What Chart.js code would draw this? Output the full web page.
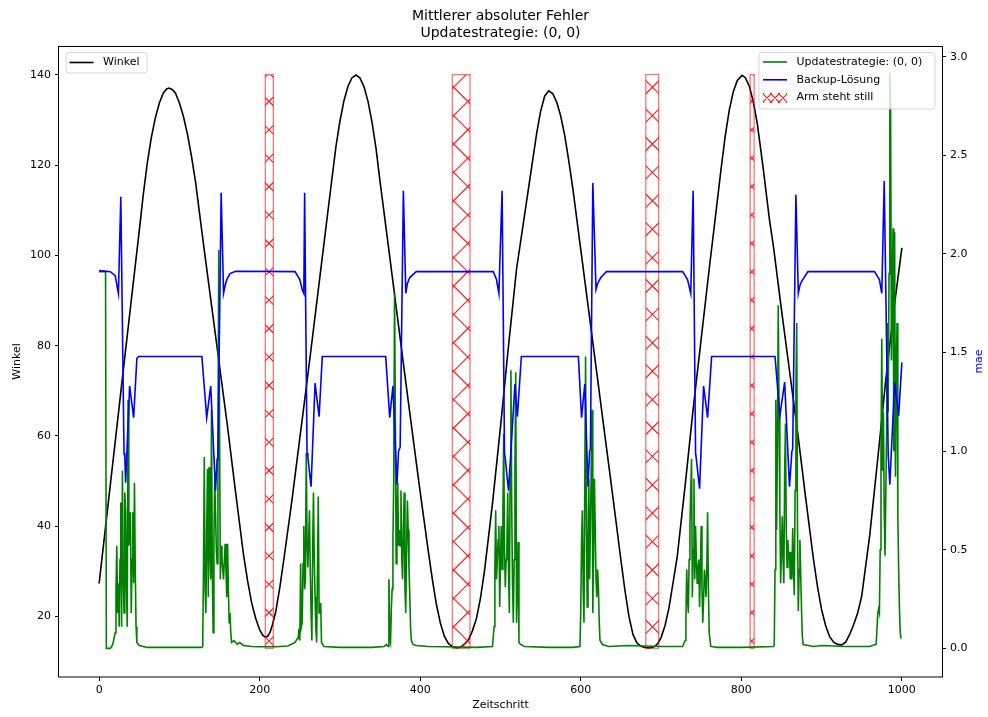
<!DOCTYPE html>
<html>
<head>
<meta charset="utf-8">
<title>Mittlerer absoluter Fehler</title>
<script src="https://cdn.jsdelivr.net/npm/chart.js@4"></script>
<style>
  html, body { margin: 0; padding: 0; background: #fff; }
</style>
</head>
<body>
<canvas id="chart" width="988" height="717"></canvas>
<script>
// Daten
const titleLines = ['Mittlerer absoluter Fehler', 'Updatestrategie: (0, 0)'];
const xTicks = [0, 200, 400, 600, 800, 1000];
const winkelTicks = [20, 40, 60, 80, 100, 120, 140];
const maeTicks = [0, 0.5, 1, 1.5, 2, 2.5, 3];

// Winkel (linke Achse)
const winkelSteps = [0, 10, 20, 30, 40, 50, 55, 60, 65, 70, 75, 80, 84, 87, 91, 95, 100, 105, 110, 115, 120, 130, 140, 150, 160, 170, 180, 185, 190, 195, 200, 204, 207, 210, 213, 216, 220, 225, 230, 240, 250, 260, 270, 280, 290, 295, 300, 305, 310, 315, 320, 325, 330, 335, 340, 345, 350, 360, 370, 380, 390, 400, 410, 415, 420, 425, 430, 435, 440, 446, 452, 456, 460, 465, 470, 475, 480, 490, 500, 510, 520, 530, 540, 545, 550, 555, 560, 565, 570, 575, 580, 585, 590, 600, 610, 620, 630, 640, 650, 655, 660, 665, 670, 675, 680, 686, 692, 696, 700, 705, 710, 720, 730, 740, 750, 760, 770, 775, 780, 785, 790, 795, 801, 805, 810, 815, 820, 827, 835, 840, 850, 860, 870, 880, 890, 895, 900, 905, 910, 915, 920, 925, 930, 935, 940, 945, 950, 960, 970, 980, 990, 1000];
const winkelValues = [27.3, 43, 58.7, 74.4, 90, 105.5, 113.5, 120.5, 126.1, 130.5, 133.8, 136, 136.9, 137.1, 136.8, 136, 133.8, 130.8, 126.9, 122, 116.4, 102.5, 89, 75.5, 62, 47.5, 33.5, 27.8, 23, 19.6, 17, 15.8, 15.4, 15.6, 16.5, 18.2, 21, 26.3, 32.5, 45.5, 59.5, 73.5, 88, 102.5, 117, 124.1, 129.8, 134.3, 137.5, 139.4, 140, 139.3, 137.4, 134.1, 129.5, 123.6, 116.3, 102.5, 88.6, 74.7, 61, 47.5, 34.5, 28.3, 22.8, 18.6, 15.6, 14, 13.3, 13, 13.4, 14, 14.8, 16.8, 19.5, 24, 30, 45, 62, 80, 97, 109, 121, 127, 132, 135.3, 136.5, 135.9, 134, 130.9, 126.6, 121, 115, 101.3, 87.6, 73.9, 60.2, 46.5, 32.5, 25.8, 20, 16, 14.1, 13.4, 13.1, 13, 13.3, 14, 15.3, 18, 22, 33, 49, 66, 81.5, 97, 112, 119.5, 126.5, 132.2, 136.3, 138.8, 139.9, 139.4, 137.5, 134, 129.1, 119.7, 108, 102, 88, 74.5, 61, 46.5, 32.5, 26.5, 21.5, 18, 15.5, 14.3, 13.8, 13.7, 14.3, 16, 18.2, 20.8, 24.5, 38, 55, 72.5, 88, 101.7];

// Updatestrategie: (0, 0) (rechte Achse)
const updateSteps = [0, 8, 9, 14, 17, 19, 20, 21, 22, 23, 24, 25, 26, 27, 28, 29, 30, 31, 32, 33, 34, 35, 36, 37, 38, 39, 40, 41, 42, 43, 44, 45, 46, 47, 50, 60, 128, 129, 130, 131, 132, 133, 134, 135, 136, 137, 138, 139, 140, 141, 142, 143, 144, 145, 146, 147, 148, 149, 150, 151, 152, 153, 154, 155, 156, 157, 158, 159, 160, 161, 162, 163, 164, 165, 168, 172, 175, 180, 190, 200, 220, 235, 244, 247, 248, 249, 250, 251, 252, 253, 254, 255, 256, 257, 258, 259, 260, 261, 262, 263, 264, 265, 266, 267, 268, 269, 270, 271, 272, 273, 274, 275, 276, 277, 280, 300, 340, 355, 358, 360, 361, 362, 363, 364, 365, 366, 367, 368, 369, 370, 371, 372, 373, 374, 375, 376, 377, 378, 379, 380, 381, 382, 383, 384, 385, 386, 387, 388, 389, 391, 395, 410, 430, 470, 490, 492, 493, 494, 495, 496, 497, 498, 499, 500, 501, 502, 503, 504, 505, 506, 507, 508, 509, 510, 511, 512, 513, 514, 515, 516, 517, 518, 519, 520, 521, 522, 523, 525, 530, 560, 590, 599, 600, 601, 602, 603, 604, 605, 606, 607, 608, 609, 610, 611, 612, 613, 614, 615, 616, 617, 618, 619, 620, 621, 622, 623, 624, 627, 635, 660, 700, 727, 730, 731, 732, 733, 734, 735, 736, 737, 738, 739, 740, 741, 742, 743, 744, 745, 746, 747, 748, 749, 750, 751, 752, 753, 754, 755, 756, 757, 758, 759, 760, 762, 770, 800, 840, 841, 842, 843, 844, 845, 846, 847, 848, 849, 850, 851, 852, 853, 854, 855, 856, 857, 858, 859, 860, 861, 862, 863, 864, 865, 866, 867, 868, 869, 870, 871, 872, 873, 874, 875, 876, 877, 890, 900, 930, 960, 967, 968, 970, 971, 972, 973, 974, 975, 976, 977, 978, 979, 980, 981, 982, 983, 984, 985, 986, 987, 988, 989, 990, 991, 992, 993, 994, 995, 996, 997, 998, 999, 1000];
const updateValues = [1.91, 1.91, 0.0, 0.0, 0.02, 0.06, 0.08, 0.30, 0.52, 0.18, 0.33, 0.11, 0.45, 0.74, 0.11, 0.90, 0.40, 0.18, 0.79, 0.69, 0.33, 0.11, 1.26, 0.52, 0.60, 0.69, 0.18, 0.45, 0.69, 0.33, 0.84, 0.40, 0.11, 0.03, 0.015, 0.005, 0.005, 0.01, 0.40, 0.97, 0.30, 0.18, 0.60, 0.91, 0.26, 0.92, 0.50, 0.35, 1.21, 0.40, 0.08, 0.55, 0.86, 0.69, 0.50, 0.43, 0.96, 2.02, 1.10, 0.35, 0.52, 0.45, 0.40, 0.35, 0.45, 0.53, 0.40, 0.26, 0.53, 0.30, 0.13, 0.18, 0.08, 0.03, 0.04, 0.02, 0.03, 0.015, 0.01, 0.008, 0.008, 0.012, 0.03, 0.05, 0.05, 0.10, 0.04, 0.43, 0.11, 0.13, 0.43, 0.62, 0.30, 0.35, 0.99, 0.55, 0.41, 0.55, 0.70, 0.40, 0.19, 0.04, 0.50, 0.79, 0.45, 0.26, 0.10, 0.03, 0.40, 0.77, 0.18, 0.20, 0.23, 0.03, 0.01, 0.005, 0.005, 0.01, 0.02, 0.01, 0.35, 0.05, 0.03, 0.20, 0.30, 0.55, 0.85, 1.80, 1.20, 0.43, 0.65, 0.84, 0.52, 0.60, 0.52, 0.80, 0.45, 0.35, 0.60, 0.79, 0.30, 0.18, 0.50, 0.75, 0.60, 0.40, 0.27, 0.10, 0.04, 0.02, 0.015, 0.01, 0.008, 0.005, 0.01, 0.11, 0.40, 0.70, 0.35, 0.45, 0.55, 0.62, 0.21, 0.45, 0.62, 0.40, 0.70, 1.09, 0.50, 0.31, 0.45, 0.52, 0.79, 0.40, 0.18, 0.90, 1.41, 0.70, 0.32, 0.13, 0.45, 0.90, 1.40, 0.13, 0.30, 0.54, 0.03, 0.02, 0.01, 0.005, 0.005, 0.01, 0.20, 0.55, 0.70, 0.30, 0.13, 0.86, 1.48, 0.60, 0.21, 0.55, 0.86, 0.35, 0.60, 0.91, 1.21, 0.18, 0.50, 0.86, 0.60, 0.35, 0.26, 0.40, 0.31, 0.13, 0.04, 0.02, 0.01, 0.015, 0.01, 0.01, 0.04, 0.15, 0.40, 0.25, 0.18, 0.45, 0.62, 0.80, 0.96, 0.26, 0.50, 0.86, 0.35, 0.62, 0.45, 0.33, 0.40, 0.45, 0.21, 0.40, 0.62, 0.30, 0.13, 0.25, 0.40, 0.35, 0.26, 0.40, 0.69, 0.30, 0.08, 0.01, 0.005, 0.005, 0.01, 0.017, 0.40, 1.26, 0.60, 1.00, 1.74, 1.20, 0.70, 0.33, 0.50, 0.67, 0.45, 0.33, 0.90, 1.14, 0.60, 0.41, 0.55, 0.45, 0.49, 0.35, 0.49, 0.35, 0.61, 0.40, 0.27, 0.80, 1.30, 1.65, 0.60, 0.19, 0.40, 0.55, 0.37, 0.20, 0.06, 0.02, 0.01, 0.015, 0.01, 0.01, 0.02, 0.02, 0.18, 0.20, 0.18, 0.50, 1.00, 1.57, 0.90, 1.20, 0.70, 0.47, 0.47, 1.10, 1.65, 1.20, 1.90, 2.92, 2.72, 1.46, 1.80, 2.13, 1.00, 2.11, 0.87, 1.40, 1.65, 0.67, 0.40, 0.20, 0.08, 0.05, 0.05];

// Backup-Lösung (rechte Achse)
const backupSteps = [0, 14, 20, 24, 27, 31, 32, 33, 38, 43, 47, 49, 128, 134, 139, 145, 147, 148, 152, 155, 157, 159, 163, 170, 244, 250, 253, 255, 256, 259, 260, 264, 269, 274, 278, 357, 362, 366, 371, 373, 375, 379, 382, 384, 387, 395, 491, 495, 498, 502, 505, 506, 510, 518, 521, 526, 597, 601, 605, 609, 611, 612, 615, 619, 621, 625, 632, 727, 733, 737, 740, 743, 744, 748, 753, 758, 763, 842, 848, 854, 860, 863, 864, 868, 871, 873, 875, 883, 966, 972, 975, 978, 983, 985, 991, 996, 1000];
const backupValues = [1.915, 1.91, 1.89, 1.80, 2.29, 0.99, 0.97, 0.84, 1.33, 1.17, 1.47, 1.48, 1.48, 1.17, 1.33, 0.80, 0.96, 0.98, 2.31, 1.80, 1.84, 1.87, 1.90, 1.912, 1.91, 1.87, 1.82, 1.80, 2.31, 0.99, 0.97, 0.82, 1.345, 1.175, 1.48, 1.48, 1.17, 1.33, 0.83, 1.00, 1.02, 2.32, 1.80, 1.85, 1.88, 1.91, 1.91, 1.87, 1.80, 2.32, 0.99, 0.96, 0.80, 1.34, 1.175, 1.48, 1.48, 1.17, 1.34, 0.82, 1.00, 1.01, 2.36, 1.82, 1.85, 1.88, 1.91, 1.91, 1.87, 1.80, 2.32, 0.99, 0.96, 0.81, 1.33, 1.17, 1.48, 1.48, 1.18, 1.35, 0.82, 1.00, 1.01, 2.30, 1.80, 1.84, 1.86, 1.91, 1.91, 1.87, 1.80, 2.37, 0.98, 0.83, 1.35, 1.18, 1.45];

// Arm steht still: Zeitschritt-Intervalle, Höhe = Winkel min/max
const stillStart = [207, 440, 681, 811];
const stillEnd = [217, 462, 697, 816];
const stillRange = [12.9, 140.1];

const FONT = 'DejaVu Sans';
const tickFont = { family: FONT, size: 11 };

function toPoints(steps, values) {
    return steps.map((s, i) => ({ x: s, y: values[i] }));
}

// Schraffur 'x' wie bei matplotlib, an einem Punkt verankert
function drawHatch(ctx, l, t, r, b, gap, color, ax, ay) {
    ctx.save();
    ctx.beginPath();
    ctx.rect(l, t, r - l, b - t);
    ctx.clip();
    ctx.strokeStyle = color;
    ctx.lineWidth = 1.1;
    ctx.beginPath();
    const cA = ax - ay;
    for (let c = cA + Math.floor((l - b - cA) / gap) * gap; c <= r - t; c += gap) {
        ctx.moveTo(c + t, t);
        ctx.lineTo(c + b, b);
    }
    const cB = ax + ay;
    for (let c = cB + Math.floor((l + t - cB) / gap) * gap; c <= r + b + gap; c += gap) {
        ctx.moveTo(c - t, t);
        ctx.lineTo(c - b, b);
    }
    ctx.stroke();
    ctx.restore();
}

const stillPlugin = {
    id: 'stillPlugin',
    afterDatasetDraw(chart, args) {
        if (args.index !== 0) return;
        const { ctx, chartArea, scales } = chart;
        const top = scales.y.getPixelForValue(stillRange[1]);
        const bottom = scales.y.getPixelForValue(stillRange[0]);
        ctx.save();
        ctx.beginPath();
        ctx.rect(chartArea.left, chartArea.top, chartArea.width, chartArea.height);
        ctx.clip();
        stillStart.forEach((s, i) => {
            const l = scales.x.getPixelForValue(s);
            const r = scales.x.getPixelForValue(stillEnd[i]);
            drawHatch(ctx, l, top, r, bottom, 28.4, 'rgba(255,0,0,0.9)', 269, 215);
            ctx.strokeStyle = 'rgba(255,0,0,0.55)';
            ctx.lineWidth = 1.3;
            ctx.strokeRect(l, top, r - l, bottom - top);
        });
        ctx.restore();
    }
};

const framePlugin = {
    id: 'framePlugin',
    afterDatasetsDraw(chart) {
        const { ctx, chartArea: a } = chart;
        ctx.save();
        ctx.strokeStyle = '#000';
        ctx.lineWidth = 1;
        ctx.strokeRect(Math.round(a.left) - 0.5, Math.round(a.top) + 0.5, Math.round(a.width) + 1, Math.round(a.height) - 0.5);
        ctx.restore();
    }
};

function legendBox(ctx, x, y, w, h) {
    const r = 3;
    ctx.save();
    ctx.beginPath();
    ctx.moveTo(x + r, y);
    ctx.arcTo(x + w, y, x + w, y + h, r);
    ctx.arcTo(x + w, y + h, x, y + h, r);
    ctx.arcTo(x, y + h, x, y, r);
    ctx.arcTo(x, y, x + w, y, r);
    ctx.closePath();
    ctx.fillStyle = 'rgba(255,255,255,0.8)';
    ctx.fill();
    ctx.strokeStyle = 'rgba(204,204,204,0.8)';
    ctx.lineWidth = 1;
    ctx.stroke();
    ctx.restore();
}

function legendLine(ctx, x, y, color, text) {
    ctx.save();
    ctx.strokeStyle = color;
    ctx.lineWidth = 1.6;
    ctx.beginPath();
    ctx.moveTo(x, y);
    ctx.lineTo(x + 24, y);
    ctx.stroke();
    ctx.fillStyle = '#000';
    ctx.font = '11px "' + FONT + '"';
    ctx.textBaseline = 'middle';
    ctx.fillText(text, x + 33.5, y);
    ctx.restore();
}

const legendPlugin = {
    id: 'legendPlugin',
    afterDraw(chart) {
        const { ctx, chartArea: a } = chart;
        const sets = chart.data.datasets;
        // links: Winkel
        const lx = a.left + 7, ly = a.top + 6.5;
        legendBox(ctx, lx, ly, 81, 20.5);
        legendLine(ctx, lx + 3.5, ly + 10, sets[0].borderColor, sets[0].label);
        // rechts: Fehler
        const rw = 176, rx = a.right - 7 - rw, ry = a.top + 6.5;
        legendBox(ctx, rx, ry, rw, 56.5);
        legendLine(ctx, rx + 4, ry + 9.5, sets[1].borderColor, sets[1].label);
        legendLine(ctx, rx + 4, ry + 27.3, sets[2].borderColor, sets[2].label);
        drawHatch(ctx, rx + 4, ry + 40.5, rx + 28, ry + 50.5, 8, 'rgba(255,0,0,0.9)', rx + 8, ry + 45.5);
        ctx.save();
        ctx.fillStyle = '#000';
        ctx.font = '11px "' + FONT + '"';
        ctx.textBaseline = 'middle';
        ctx.fillText('Arm steht still', rx + 37.5, ry + 45);
        // Achsentitel rechts
        ctx.fillStyle = '#0000ff';
        ctx.translate(a.right + 39.5, (a.top + a.bottom) / 2);
        ctx.rotate(-Math.PI / 2);
        ctx.textAlign = 'center';
        ctx.textBaseline = 'alphabetic';
        ctx.fillText('mae', 0, 0);
        ctx.restore();
    }
};

const ctx = document.getElementById('chart').getContext('2d');

new Chart(ctx, {
    type: 'line',
    data: {
        datasets: [
            {
                label: 'Winkel',
                data: toPoints(winkelSteps, winkelValues),
                yAxisID: 'y',
                borderColor: '#000000',
                order: 3
            },
            {
                label: 'Updatestrategie: (0, 0)',
                data: toPoints(updateSteps, updateValues),
                yAxisID: 'y1',
                borderColor: '#008000',
                order: 2
            },
            {
                label: 'Backup-Lösung',
                data: toPoints(backupSteps, backupValues),
                yAxisID: 'y1',
                borderColor: '#0000ff',
                order: 1
            }
        ]
    },
    options: {
        responsive: false,
        animation: false,
        devicePixelRatio: 1,
        elements: {
            line: { borderWidth: 1.6, tension: 0, fill: false },
            point: { radius: 0, hoverRadius: 0 }
        },
        layout: { padding: 0 },
        plugins: {
            legend: { display: false },
            tooltip: { enabled: false },
            title: {
                display: true,
                fullSize: false,
                text: titleLines,
                color: '#000',
                font: { family: FONT, size: 14, weight: 'normal', lineHeight: 1.2 },
                padding: { top: 8, bottom: 4.4 }
            }
        },
        scales: {
            x: {
                type: 'linear',
                position: 'bottom',
                min: -50,
                max: 1050,
                afterBuildTicks: s => { s.ticks = xTicks.map(v => ({ value: v })); },
                afterFit: s => { s.height = 40; },
                border: { display: false },
                grid: { drawOnChartArea: false, tickLength: 4, tickColor: '#000', tickWidth: 1 },
                ticks: { font: tickFont, color: '#000', padding: 3, maxRotation: 0, autoSkip: false, callback: v => String(v) },
                title: { display: true, text: 'Zeitschritt', color: '#000', font: tickFont, padding: { top: 0, bottom: 5 } }
            },
            y: {
                type: 'linear',
                position: 'left',
                min: 6.57,
                max: 146.42,
                afterBuildTicks: s => { s.ticks = winkelTicks.map(v => ({ value: v })); },
                afterFit: s => { s.width = 59; },
                border: { display: false },
                grid: { drawOnChartArea: false, tickLength: 4, tickColor: '#000', tickWidth: 1 },
                ticks: { font: tickFont, color: '#000', padding: 4, callback: v => String(v) },
                title: { display: true, text: 'Winkel', color: '#000', font: tickFont, padding: { top: 11, bottom: 0 } }
            },
            y1: {
                type: 'linear',
                position: 'right',
                min: -0.145,
                max: 3.054,
                afterBuildTicks: s => { s.ticks = maeTicks.map(v => ({ value: v })); },
                afterFit: s => { s.width = 46; },
                border: { display: false },
                grid: { drawOnChartArea: false, tickLength: 4, tickColor: '#000', tickWidth: 1 },
                ticks: { font: tickFont, color: '#000', padding: 4, callback: v => v.toFixed(1) }
            }
        }
    },
    plugins: [stillPlugin, framePlugin, legendPlugin]
});
</script>
</body>
</html>
